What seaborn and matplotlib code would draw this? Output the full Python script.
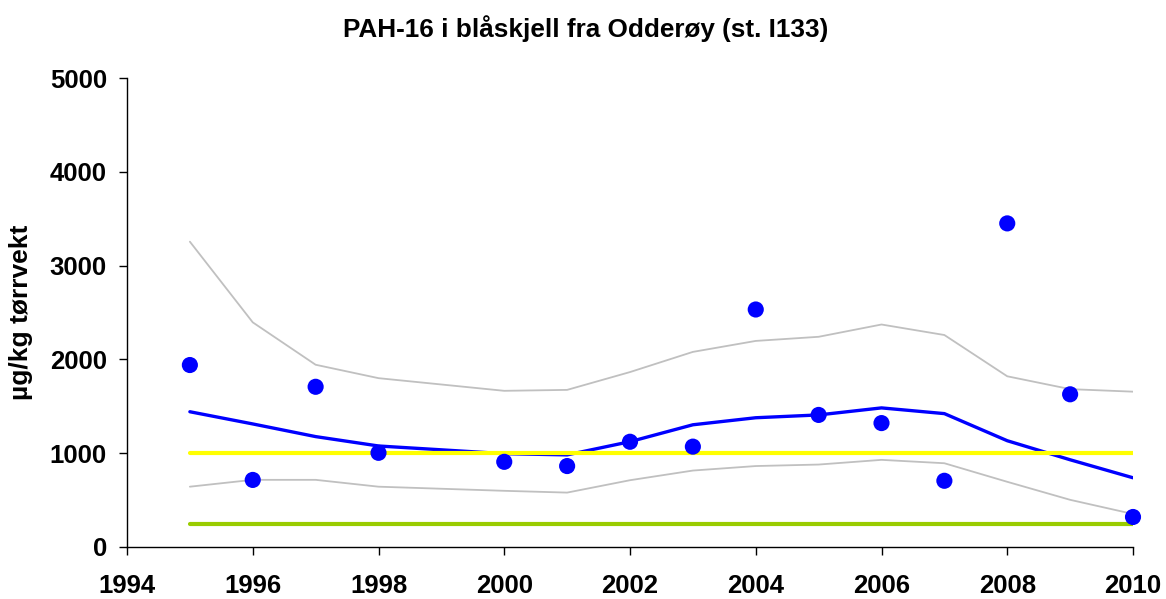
import matplotlib
matplotlib.use("Agg")
import matplotlib.pyplot as plt
import seaborn as sns
import pandas as pd

sns.set_style("white")
plt.rcParams['font.family'] = ['Liberation Sans', 'DejaVu Sans']
plt.rcParams['text.color'] = 'black'
plt.rcParams['axes.labelcolor'] = 'black'

# Observed values (µg/kg tørrvekt)
obs_years = [1995, 1996, 1997, 1998, 2000, 2001, 2002, 2003, 2004, 2005, 2006, 2007, 2008, 2009, 2010]
obs_values = [1940, 715, 1708, 1004, 908, 863, 1122, 1070, 2532, 1408, 1321, 706, 3450, 1628, 320]

# Trend line and confidence band
trend_years = [1995, 1996, 1997, 1998, 2000, 2001, 2002, 2003, 2004, 2005, 2006, 2007, 2008, 2009, 2010]
trend_values = [1442, 1312, 1177, 1077, 995, 982, 1123, 1303, 1378, 1408, 1483, 1422, 1133, 930, 738]
upper_values = [3255, 2395, 1943, 1800, 1665, 1675, 1865, 2080, 2197, 2241, 2372, 2260, 1820, 1683, 1656]
lower_values = [643, 716, 716, 643, 599, 580, 712, 815, 863, 879, 929, 893, 695, 503, 352]

# Reference levels
ref_years = [1995, 2010]
class2_limit = [1000, 1000]
background = [250, 250]

df_obs = pd.DataFrame({"year": obs_years, "value": obs_values})
df_tr = pd.DataFrame({"year": trend_years, "trend": trend_values,
                      "upper": upper_values, "lower": lower_values})
df_ref = pd.DataFrame({"year": ref_years, "c2": class2_limit, "bg": background})

fig = plt.figure(figsize=(11.66, 5.99), dpi=100)
ax = fig.add_axes([127/1166, 52/599, 1006/1166, 469/599])

sns.lineplot(data=df_tr, x="year", y="upper", ax=ax, color="#C0C0C0", linewidth=1.3, zorder=2)
sns.lineplot(data=df_tr, x="year", y="lower", ax=ax, color="#C0C0C0", linewidth=1.3, zorder=2)
sns.lineplot(data=df_tr, x="year", y="trend", ax=ax, color="#0000FF", linewidth=2.4, zorder=3)
sns.lineplot(data=df_ref, x="year", y="c2", ax=ax, color="#FFFF00", linewidth=3.0, zorder=4)
sns.lineplot(data=df_ref, x="year", y="bg", ax=ax, color="#99CC00", linewidth=3.0, zorder=4)
sns.scatterplot(data=df_obs, x="year", y="value", ax=ax, color="#0000FF", s=135,
                edgecolor="none", linewidth=0, zorder=5, clip_on=False)

ax.set_xlim(1994, 2010)
ax.set_ylim(0, 5000)
ax.set_xticks(range(1994, 2011, 2))
ax.set_yticks(range(0, 5001, 1000))
ax.tick_params(axis='both', which='major', bottom=True, left=True, direction='out',
               length=5.5, width=1, colors='black', labelcolor='black', labelsize=18.5)
ax.tick_params(axis='y', pad=9)
ax.tick_params(axis='x', pad=14)
for lab in ax.get_xticklabels() + ax.get_yticklabels():
    lab.set_fontweight('bold')

for side in ['top', 'right']:
    ax.spines[side].set_visible(False)
for side in ['left', 'bottom']:
    ax.spines[side].set_color('black')
    ax.spines[side].set_linewidth(1)

ax.set_xlabel("")
ax.set_ylabel("µg/kg tørrvekt", fontsize=19, fontweight='bold', labelpad=12, color='black')
fig.text(0.502, 0.953, "PAH-16 i blåskjell fra Odderøy (st. I133)", ha='center', va='center',
         fontsize=18.8, fontweight='bold', color='black')

fig.savefig("out.png", dpi=100, facecolor='white')
